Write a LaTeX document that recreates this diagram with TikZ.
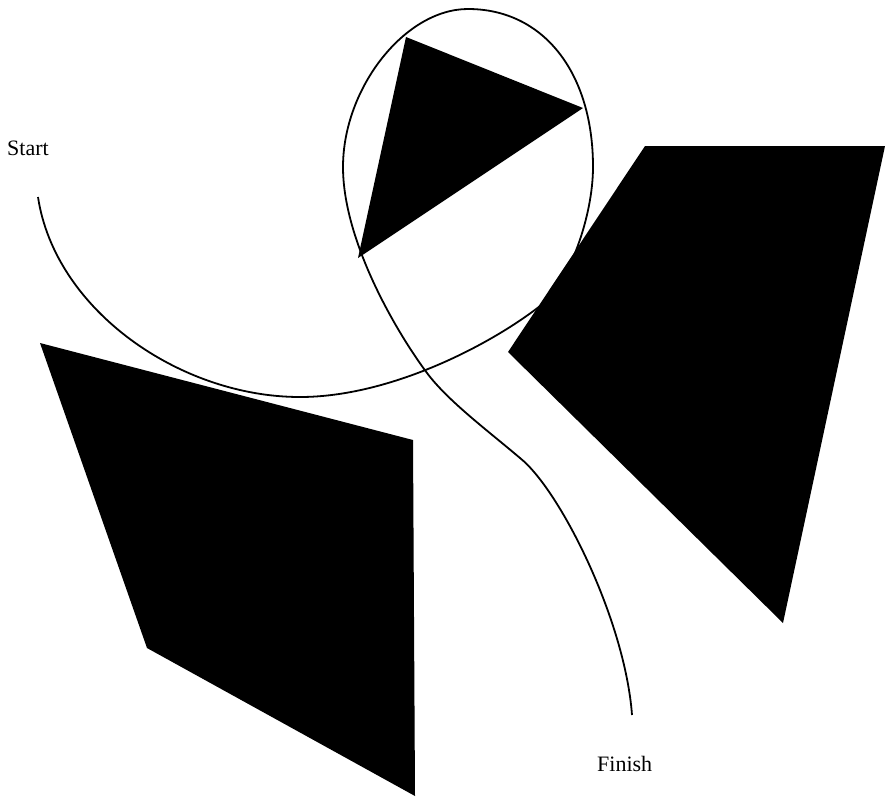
\documentclass[tikz,border=0pt]{standalone}
\usepackage{fontspec}
\setmainfont{Liberation Serif}
\begin{document}
\begin{tikzpicture}[x=1pt,y=-1pt,
  solid shape/.style={fill=black,draw=none},
  path line/.style={draw=black,line width=1.8pt},
  label text/.style={font=\fontsize{22}{24}\selectfont,inner sep=0pt,anchor=base west}]
\useasboundingbox (0,0) rectangle (885,796);
% the path
\coordinate (start) at (38,197);
\coordinate (low) at (300,397);
\coordinate (p1) at (540,306);
\coordinate (right) at (593,167);
\coordinate (top) at (468,9);
\coordinate (left) at (343,167);
\coordinate (cross) at (427,373);
\coordinate (p2) at (520,458);
\coordinate (finish) at (632,715);
\draw[path line] (start) .. controls (55,310) and (180,397) .. (low)
  .. controls (390,397) and (490,345) .. (p1)
  .. controls (570,283) and (593,215) .. (right)
  .. controls (593,72) and (543,9) .. (top)
  .. controls (405,9) and (343,88) .. (left)
  .. controls (343,240) and (395,330) .. (cross)
  .. controls (448,401) and (487,430) .. (p2)
  .. controls (560,490) and (625,620) .. (finish);
% shapes
\fill[solid shape] (40,343) -- (413,440) -- (415,796) -- (147,648) -- cycle;
\fill[solid shape] (645,146) -- (885,146) -- (783,623) -- (508,352) -- cycle;
\fill[solid shape] (406,37) -- (583,108) -- (358,258) -- cycle;
% labels
\node[label text] (startlbl) at (7,155) {Start};
\node[label text] (finishlbl) at (597,771) {Finish};
\end{tikzpicture}
\end{document}
